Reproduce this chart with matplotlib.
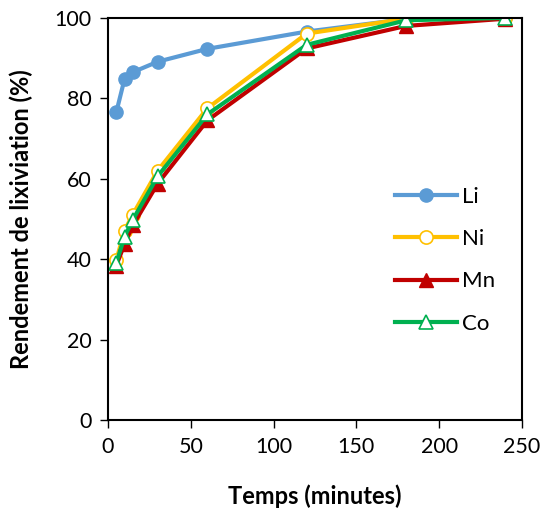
import matplotlib
matplotlib.use("Agg")
from matplotlib import pyplot as plt

# data
temps = [5, 10, 15, 30, 60, 120, 180, 240]
li = [76.5, 84.8, 86.5, 89.1, 92.3, 96.6, 99.7, 100]
ni = [39.7, 47.1, 51.1, 62.0, 77.5, 96.1, 99.8, 100]
mn = [38.4, 43.8, 48.4, 58.8, 74.5, 92.4, 98.0, 99.8]
co = [39.0, 45.6, 49.8, 60.6, 76.0, 93.3, 99.4, 100]

plt.rcParams['font.family'] = ['Lato', 'DejaVu Sans']

fig = plt.figure(figsize=(5.44, 5.11), dpi=100)
ax = fig.add_axes([0.1985, 0.178, 0.761, 0.787])

line_params = dict(linewidth=3, markersize=9.5)
ax.plot(temps, li, color='#5b9bd5', marker='o', label='Li', **line_params)
ax.plot(temps, ni, color='#ffc000', marker='o', markerfacecolor='white',
        markeredgewidth=1.2, label='Ni', **line_params)
ax.plot(temps, mn, color='#c00000', marker='^', label='Mn', **line_params)
ax.plot(temps, co, color='#00b050', marker='^', markerfacecolor='white',
        markeredgewidth=1.2, label='Co', **line_params)

ax.set_xlim(0, 250)
ax.set_ylim(0, 100)
ax.set_xticks(range(0, 251, 50))
ax.set_yticks(range(0, 101, 20))
ax.tick_params(direction='out', length=6, width=1, labelsize=15.5, pad=6)
for s in ax.spines.values():
    s.set_linewidth(1.5)

ax.set_xlabel('Temps (minutes)', fontsize=17, fontweight='bold', labelpad=20)
ax.set_ylabel('Rendement de lixiviation (%)', fontsize=17, fontweight='bold', labelpad=15)

ax.legend(loc='center left', bbox_to_anchor=(0.645, 0.397), frameon=False,
          fontsize=16, handlelength=2.8, labelspacing=1.0, handletextpad=0.2)

fig.savefig('out.png', dpi=100)
